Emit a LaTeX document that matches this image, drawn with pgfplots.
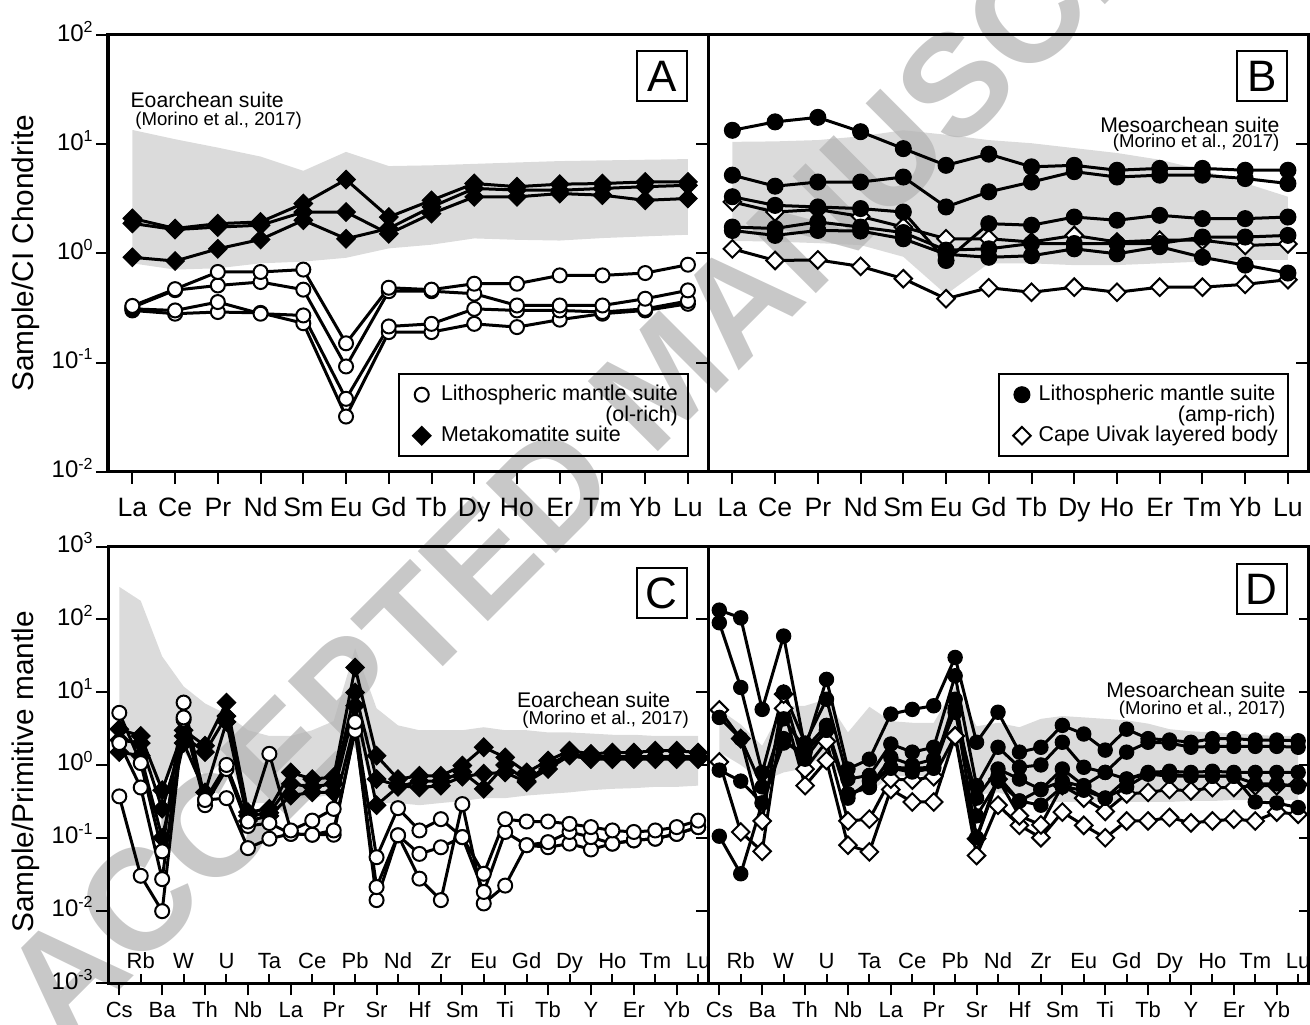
\documentclass[border=0pt]{standalone}
\usepackage{pgfplots}
\pgfplotsset{compat=1.18}
\usepackage{pgfplotstable}
\usepackage{fontspec}
\setmainfont{Liberation Sans}
\definecolor{bandc}{RGB}{179,179,179}
\definecolor{wm}{RGB}{200,200,200}

\pgfplotstableread{
el D1 D2 D3 C1 C2 C3 C4
La 2.09 1.88 0.92 0.33 0.32 0.31 0.30
Ce 1.69 1.65 0.85 0.47 0.46 0.30 0.28
Pr 1.87 1.74 1.10 0.675 0.508 0.358 0.29
Nd 1.94 1.81 1.34 0.675 0.546 0.28 0.285
Sm 2.86 2.39 2.01 0.71 0.465 0.27 0.229
Eu 4.74 2.39 1.36 0.150 0.092 0.0465 0.032
Gd 2.15 1.51 1.69 0.484 0.45 0.214 0.19
Tb 3.06 2.31 2.66 0.465 0.45 0.226 0.19
Dy 4.36 3.29 3.93 0.527 0.427 0.31 0.226
Ho 4.08 3.29 3.80 0.527 0.333 0.30 0.211
Er 4.30 3.53 3.78 0.628 0.333 0.30 0.247
Tm 4.36 3.41 3.93 0.628 0.333 0.29 0.28
Yb 4.51 3.06 4.08 0.66 0.384 0.31 0.30
Lu 4.51 3.18 4.20 0.787 0.458 0.366 0.345
}\tabA

\pgfplotstableread{
el F1 F2 F3 F4 F5 E1 E2
La 13.4 5.2 3.3 1.74 1.62 2.96 1.10
Ce 16.0 4.12 2.75 1.69 1.46 2.39 0.86
Pr 17.6 4.5 2.66 1.94 1.62 2.52 0.87
Nd 13.0 4.5 2.57 1.74 1.60 2.18 0.76
Sm 9.1 5.0 2.39 1.55 1.36 1.74 0.586
Eu 6.4 2.66 0.86 1.07 0.98 1.36 0.384
Gd 8.1 3.66 1.87 1.10 0.92 1.36 0.484
Tb 6.2 4.5 1.81 1.23 0.95 1.27 0.44
Dy 6.4 5.6 2.15 1.23 1.10 1.46 0.49
Ho 5.77 5.0 2.01 1.23 0.99 1.27 0.44
Er 6.0 5.2 2.23 1.23 1.15 1.32 0.49
Tm 6.0 5.2 2.08 1.41 0.92 1.32 0.49
Yb 5.77 4.84 2.08 1.41 0.78 1.18 0.52
Lu 5.77 4.36 2.15 1.46 0.66 1.22 0.574
}\tabB

\pgfplotstableread{
el S1 S2 S3 M1 M2 M3
Cs 5.2 2.0 0.37 3.1 2.2 1.5
Rb 1.06 0.49 0.030 2.5 2.0 1.34
Ba 0.065 0.027 0.0098 0.45 0.25 0.10
W 7.2 4.5 4.2 3.0 2.5 2.0
Th 0.33 0.28 0.33 1.84 1.5 0.42
U 1.0 0.88 0.35 7.2 4.7 3.9
Nb 0.167 0.145 0.072 0.225 0.2 0.17
Ta 1.42 0.159 0.097 0.25 0.22 0.2
La 0.126 0.113 0.113 0.79 0.55 0.38
Ce 0.172 0.11 0.11 0.64 0.5 0.42
Pr 0.249 0.126 0.11 0.68 0.55 0.42
Pb 3.9 2.95 3.3 21.8 9.9 6.5
Sr 0.054 0.021 0.0139 1.34 0.64 0.28
Nd 0.255 0.108 0.108 0.64 0.52 0.5
Hf 0.126 0.06 0.0274 0.71 0.49 0.6
Zr 0.18 0.074 0.0139 0.71 0.52 0.6
Sm 0.102 0.102 0.29 0.98 0.69 0.8
Eu 0.032 0.018 0.0125 1.75 0.76 0.47
Ti 0.18 0.12 0.022 1.27 0.79 1.0
Gd 0.167 0.079 0.079 0.79 0.58 0.6
Tb 0.167 0.087 0.074 1.15 0.88 1.0
Dy 0.155 0.12 0.083 1.57 1.35 1.4
Y 0.14 0.102 0.069 1.42 1.2 1.3
Ho 0.126 0.083 0.083 1.48 1.2 1.3
Er 0.12 0.092 0.092 1.48 1.2 1.3
Tm 0.126 0.097 0.097 1.57 1.2 1.3
Yb 0.14 0.113 0.113 1.57 1.2 1.3
Lu 0.172 0.14 0.14 1.48 1.2 1.3
}\tabC

\pgfplotstableread{
el P1 P2 P3 P4 P5 Q1 Q2
Cs 134 90 4.5 0.85 0.105 5.7 1.1
Rb 105 11.6 2.3 0.6 0.032 2.3 0.12
Ba 5.8 0.79 0.5 0.3 0.3 0.17 0.065
W 59 10 4.3 2.3 2.0 9.4 6.0
Th 1.66 2.0 1.66 1.2 1.5 0.88 0.52
U 15 8 3.5 3.0 3.0 2.1 1.15
Nb 0.88 0.64 0.4 0.4 0.35 0.17 0.079
Ta 1.2 0.72 0.49 0.5 0.6 0.18 0.064
La 5.0 1.94 1.27 0.93 0.9 0.64 0.46
Ce 5.8 1.5 1.0 0.9 0.8 0.62 0.31
Pr 6.5 1.75 1.2 0.93 0.9 0.69 0.31
Pb 30 16.8 5.3 8.0 6.0 2.5 2.5
Sr 2.05 0.52 0.35 0.2 0.1 0.097 0.057
Nd 5.3 1.75 0.88 0.6 0.7 0.64 0.28
Hf 1.5 0.93 0.64 0.32 0.32 0.2 0.148
Zr 1.75 1.0 0.46 0.28 0.46 0.15 0.1
Sm 3.5 2.05 0.88 0.5 0.6 0.52 0.225
Eu 2.66 0.93 0.52 0.45 0.5 0.35 0.148
Ti 1.6 0.79 0.79 0.35 0.35 0.23 0.1
Gd 3.1 1.5 0.64 0.5 0.64 0.4 0.17
Tb 2.3 2.05 0.79 0.75 0.75 0.42 0.17
Dy 2.2 2.0 0.82 0.7 0.75 0.46 0.19
Y 2.05 1.75 0.79 0.7 0.7 0.44 0.16
Ho 2.3 1.8 0.82 0.7 0.7 0.49 0.17
Er 2.3 1.8 0.79 0.7 0.7 0.49 0.18
Tm 2.2 1.8 0.79 0.55 0.31 0.52 0.17
Yb 2.2 1.8 0.79 0.55 0.30 0.52 0.225
Lu 2.15 1.75 0.79 0.5 0.26 0.54 0.21
}\tabD

\pgfplotsset{
  zzoc/.style={black, line width=1.5pt, mark=*, mark size=3.5pt, mark options={solid, fill=white, line width=1pt}},
  zzfd/.style={black, line width=1.5pt, mark=square*, mark size=3.3pt, mark options={solid, fill=black, rotate=45, line width=0.5pt}},
  zzfc/.style={black, line width=1.5pt, mark=*, mark size=4pt, mark options={solid, fill=black, line width=0.5pt}},
  zzfcs/.style={black, line width=1.5pt, mark=*, mark size=3.6pt, mark options={solid, fill=black, line width=0.5pt}},
  zzod/.style={black, line width=1.5pt, mark=square*, mark size=3.1pt, mark options={solid, fill=white, rotate=45, line width=1pt}},
  zzband/.style={fill=bandc, fill opacity=0.47, draw=none, forget plot},
}
\tikzset{zzletter/.style={draw, line width=1pt, minimum width=25pt, minimum height=25pt, inner sep=0pt, font=\fontsize{22}{22}\selectfont},
  zztxt/.style={inner sep=0pt, font=\fontsize{10.6}{11}\selectfont},
  zzref/.style={inner sep=0pt, font=\fontsize{9.3}{10}\selectfont}}

\begin{document}
\begin{tikzpicture}
\useasboundingbox (0,0) rectangle (655pt,512pt);
\node[rotate=45, anchor=west, inner sep=0pt, text=wm, font=\fontsize{72}{72}\selectfont\bfseries] at (14pt,6pt) {ACCEPTED MANUSCRIPT};

% ---------------- Panel A
\begin{axis}[at={(54pt,276.15pt)}, anchor=south west, scale only axis, width=300pt, height=218.35pt,
  ymode=log, ymin=0.01, ymax=100, xmin=-0.57, xmax=13.47, enlargelimits=false,
  axis line style={line width=1.5pt}, tick style={line width=1pt, black}, major tick length=6pt,
  tick align=outside, ytick pos=left, xtick pos=bottom, typeset ticklabels with strut,
  ytick={0.01,0.1,1,10,100}, yminorticks=false,
  yticklabels={10\textsuperscript{-2},10\textsuperscript{-1},10\textsuperscript{0},10\textsuperscript{1},10\textsuperscript{2}},
  yticklabel style={font=\fontsize{12}{13}\selectfont, inner xsep=1pt},
  xtick={0,...,13}, xticklabels={La,Ce,Pr,Nd,Sm,Eu,Gd,Tb,Dy,Ho,Er,Tm,Yb,Lu},
  xticklabel style={font=\fontsize{13.3}{14}\selectfont, yshift=-3pt},
  ylabel={Sample/CI Chondrite}, ylabel style={font=\fontsize{14.9}{16}\selectfont, at={(axis description cs:-0.137,0.5)}, anchor=center},
  legend style={at={(0.968,0.0337)}, anchor=south east, draw=black, line width=1pt, fill=none,
    font=\fontsize{10.7}{11}\selectfont, inner xsep=3pt, inner ysep=3.5pt, row sep=-3pt,
    /tikz/every odd column/.append style={column sep=3pt}},
  legend cell align=left]
\addplot[zzband] coordinates {(0,13.5) (1,11.1) (2,9.3) (3,7.7) (4,5.7) (5,8.5) (6,6.3) (7,6.4) (8,6.6) (9,6.8) (10,7.0) (11,7.1) (12,7.2) (13,7.3)
  (13,1.48) (12,1.43) (11,1.38) (10,1.31) (9,1.33) (8,1.37) (7,1.20) (6,1.11) (5,0.91) (4,0.84) (3,0.81) (2,0.73) (1,0.71) (0,0.81)};
\addplot[zzfd, forget plot] table[x expr=\coordindex, y=D3] {\tabA};
\addplot[zzfd, forget plot] table[x expr=\coordindex, y=D2] {\tabA};
\addplot[zzfd, forget plot] table[x expr=\coordindex, y=D1] {\tabA};
\addplot[zzoc, forget plot] table[x expr=\coordindex, y=C4] {\tabA};
\addplot[zzoc, forget plot] table[x expr=\coordindex, y=C3] {\tabA};
\addplot[zzoc, forget plot] table[x expr=\coordindex, y=C2] {\tabA};
\addplot[zzoc, forget plot] table[x expr=\coordindex, y=C1] {\tabA};
\addlegendimage{zzoc, only marks}
\addlegendentry{Lithospheric mantle suite}
\addlegendimage{empty legend}
\addlegendentry{\hphantom{Lithospheric mantle suite}\llap{(ol-rich)}}
\addlegendimage{zzfd, only marks}
\addlegendentry{Metakomatite suite}
\node[zztxt, anchor=west] at (rel axis cs:0.037,0.851) {Eoarchean suite};
\node[zzref, anchor=west] at (rel axis cs:0.045,0.803) {(Morino et al., 2017)};
\node[zzletter] at (rel axis cs:0.923,0.906) {A};
\end{axis}

% ---------------- Panel B
\begin{axis}[at={(354pt,276.15pt)}, anchor=south west, scale only axis, width=300pt, height=218.35pt,
  ymode=log, ymin=0.01, ymax=100, xmin=-0.57, xmax=13.47, enlargelimits=false,
  axis line style={line width=1.5pt}, tick style={line width=1pt, black}, major tick length=6pt,
  tick align=outside, ytick pos=left, xtick pos=bottom, typeset ticklabels with strut,
  ytick={0.01,0.1,1,10,100}, yminorticks=false, yticklabels={},
  xtick={0,...,13}, xticklabels={La,Ce,Pr,Nd,Sm,Eu,Gd,Tb,Dy,Ho,Er,Tm,Yb,Lu},
  xticklabel style={font=\fontsize{13.3}{14}\selectfont, yshift=-3pt},
  legend style={at={(0.968,0.0337)}, anchor=south east, draw=black, line width=1pt, fill=none,
    font=\fontsize{10.7}{11}\selectfont, inner xsep=3pt, inner ysep=3.5pt, row sep=-3pt,
    /tikz/every odd column/.append style={column sep=2pt}},
  legend cell align=left]
\addplot[zzband] coordinates {(0,10.5) (1,10.6) (2,10.9) (3,11.8) (4,13.4) (5,12.2) (6,10.9) (7,10.2) (8,9.2) (9,8.3) (10,7.2) (11,5.8) (12,4.4) (13,3.3)
  (13,0.87) (12,0.87) (11,0.84) (10,0.81) (9,0.78) (8,0.78) (7,0.81) (6,0.81) (5,0.42) (4,0.93) (3,1.19) (2,1.24) (1,1.28) (0,1.30)};
\addplot[zzod, forget plot] table[x expr=\coordindex, y=E2] {\tabB};
\addplot[zzod, forget plot] table[x expr=\coordindex, y=E1] {\tabB};
\addplot[zzfc, forget plot] table[x expr=\coordindex, y=F5] {\tabB};
\addplot[zzfc, forget plot] table[x expr=\coordindex, y=F4] {\tabB};
\addplot[zzfc, forget plot] table[x expr=\coordindex, y=F3] {\tabB};
\addplot[zzfc, forget plot] table[x expr=\coordindex, y=F2] {\tabB};
\addplot[zzfc, forget plot] table[x expr=\coordindex, y=F1] {\tabB};
\addlegendimage{zzfc, only marks}
\addlegendentry{Lithospheric mantle suite}
\addlegendimage{empty legend}
\addlegendentry{\hphantom{Lithospheric mantle suite}\llap{(amp-rich)}}
\addlegendimage{zzod, only marks}
\addlegendentry{Cape Uivak layered body}
\node[zztxt, anchor=east] at (rel axis cs:0.953,0.795) {Mesoarchean suite};
\node[zzref, anchor=east] at (rel axis cs:0.953,0.753) {(Morino et al., 2017)};
\node[zzletter] at (rel axis cs:0.923,0.906) {B};
\end{axis}
\begin{axis}[at={(354pt,276.15pt)}, anchor=south west, scale only axis, width=300pt, height=218.35pt,
  ymode=log, ymin=0.01, ymax=100, xmin=0, xmax=1, enlargelimits=false,
  axis line style={line width=1.5pt}, tick style={line width=1pt, black}, major tick length=6pt,
  tick align=inside, axis x line=none, axis y line*=right,
  ytick={0.01,0.1,1,10,100}, yminorticks=false, yticklabels={}]
\end{axis}

% ---------------- Panel C
\begin{axis}[at={(54pt,20.35pt)}, anchor=south west, scale only axis, width=300pt, height=218.35pt,
  ymode=log, ymin=0.001, ymax=1000, xmin=-0.527, xmax=27.46, enlargelimits=false,
  axis line style={line width=1.5pt}, tick style={line width=1pt, black}, major tick length=6pt,
  tick align=outside, ytick pos=left, xtick pos=bottom, typeset ticklabels with strut,
  ytick={0.001,0.01,0.1,1,10,100,1000}, yminorticks=false,
  yticklabels={10\textsuperscript{-3},10\textsuperscript{-2},10\textsuperscript{-1},10\textsuperscript{0},10\textsuperscript{1},10\textsuperscript{2},10\textsuperscript{3}},
  yticklabel style={font=\fontsize{12}{13}\selectfont, inner xsep=1pt},
  xtick={0,2,...,26}, xticklabels={Cs,Ba,Th,Nb,La,Pr,Sr,Hf,Sm,Ti,Tb,Y,Er,Yb},
  xticklabel style={font=\fontsize{11}{12}\selectfont, yshift=1pt},
  ylabel={Sample/Primitive mantle}, ylabel style={font=\fontsize{14.9}{16}\selectfont, at={(axis description cs:-0.137,0.484)}, anchor=center}]
\addplot[zzband] coordinates {(0,280) (1,180) (2,31) (3,12) (4,7) (5,5) (6,3) (7,2.5) (8,2.5) (9,3) (10,4) (11,40) (12,6) (13,3.5) (14,3) (15,3) (16,3) (17,3.3) (18,3) (19,3) (20,2.8) (21,2.8) (22,2.7) (23,2.6) (24,2.6) (25,2.5) (26,2.5) (27,2.5)
  (27,0.52) (26,0.5) (25,0.5) (24,0.48) (23,0.47) (22,0.45) (21,0.42) (20,0.4) (19,0.38) (18,0.35) (17,0.35) (16,0.32) (15,0.3) (14,0.28) (13,0.3) (12,0.3) (11,3) (10,0.4) (9,0.35) (8,0.35) (7,0.3) (6,0.3) (5,1.2) (4,0.7) (3,1.5) (2,0.5) (1,1.0) (0,1.5)};
\addplot[zzfd] table[x expr=\coordindex, y=M3] {\tabC};
\addplot[zzfd] table[x expr=\coordindex, y=M2] {\tabC};
\addplot[zzfd] table[x expr=\coordindex, y=M1] {\tabC};
\addplot[zzoc] table[x expr=\coordindex, y=S3] {\tabC};
\addplot[zzoc] table[x expr=\coordindex, y=S2] {\tabC};
\addplot[zzoc] table[x expr=\coordindex, y=S1] {\tabC};
\node[zztxt, anchor=west] at (rel axis cs:0.681,0.649) {Eoarchean suite};
\node[zzref, anchor=west] at (rel axis cs:0.69,0.603) {(Morino et al., 2017)};
\node[zzletter] at (rel axis cs:0.923,0.893) {C};
\end{axis}
\begin{axis}[at={(54pt,20.35pt)}, anchor=south west, scale only axis, width=300pt, height=218.35pt,
  ymin=0, ymax=1, xmin=-0.527, xmax=27.46, enlargelimits=false,
  axis line style={line width=1.5pt}, tick style={line width=1pt, black}, major tick length=4.5pt,
  tick align=inside, axis y line=none, axis x line*=bottom, typeset ticklabels with strut,
  xtick={1,3,...,27}, xticklabels={Rb,W,U,Ta,Ce,Pb,Nd,Zr,Eu,Gd,Dy,Ho,Tm,Lu},
  xticklabel style={font=\fontsize{11}{12}\selectfont, yshift=19.4pt}]
\end{axis}

% ---------------- Panel D
\begin{axis}[at={(354pt,20.35pt)}, anchor=south west, scale only axis, width=300pt, height=218.35pt,
  ymode=log, ymin=0.001, ymax=1000, xmin=-0.527, xmax=27.46, enlargelimits=false,
  axis line style={line width=1.5pt}, tick style={line width=1pt, black}, major tick length=6pt,
  tick align=outside, ytick pos=left, xtick pos=bottom, typeset ticklabels with strut,
  ytick={0.001,0.01,0.1,1,10,100,1000}, yminorticks=false, yticklabels={},
  xtick={0,2,...,26}, xticklabels={Cs,Ba,Th,Nb,La,Pr,Sr,Hf,Sm,Ti,Tb,Y,Er,Yb},
  xticklabel style={font=\fontsize{11}{12}\selectfont, yshift=1pt}]
\addplot[zzband] coordinates {(0,5.8) (1,3.6) (2,1.84) (3,6.5) (4,6.5) (5,8) (6,2.8) (7,6.3) (8,4) (9,3.8) (10,3.8) (11,12) (12,3.4) (13,3.8) (14,3.3) (15,4.3) (16,4.7) (17,4.5) (18,4.3) (19,4.1) (20,3.7) (21,3.1) (22,2.9) (23,2.8) (24,2.7) (25,2.6) (26,2.5) (27,2.5)
  (27,0.33) (26,0.33) (25,0.33) (24,0.33) (23,0.32) (22,0.32) (21,0.31) (20,0.31) (19,0.31) (18,0.31) (17,0.31) (16,0.31) (15,0.31) (14,0.35) (13,0.42) (12,0.39) (11,1.84) (10,0.7) (9,0.7) (8,0.7) (7,0.42) (6,0.42) (5,1.5) (4,0.9) (3,0.79) (2,0.6) (1,1.0) (0,1.5)};
\addplot[zzod] table[x expr=\coordindex, y=Q2] {\tabD};
\addplot[zzod] table[x expr=\coordindex, y=Q1] {\tabD};
\addplot[zzfcs] table[x expr=\coordindex, y=P5] {\tabD};
\addplot[zzfcs] table[x expr=\coordindex, y=P4] {\tabD};
\addplot[zzfcs] table[x expr=\coordindex, y=P3] {\tabD};
\addplot[zzfcs] table[x expr=\coordindex, y=P2] {\tabD};
\addplot[zzfcs] table[x expr=\coordindex, y=P1] {\tabD};
\node[zztxt, anchor=east] at (rel axis cs:0.963,0.672) {Mesoarchean suite};
\node[zzref, anchor=east] at (rel axis cs:0.963,0.626) {(Morino et al., 2017)};
\node[zzletter] at (rel axis cs:0.923,0.903) {D};
\end{axis}
\begin{axis}[at={(354pt,20.35pt)}, anchor=south west, scale only axis, width=300pt, height=218.35pt,
  ymode=log, ymin=0.001, ymax=1000, xmin=-0.527, xmax=27.46, enlargelimits=false,
  axis line style={line width=1.5pt}, tick style={line width=1pt, black}, major tick length=4.5pt,
  tick align=inside, axis x line*=bottom, axis y line*=right, typeset ticklabels with strut,
  ytick={0.001,0.01,0.1,1,10,100,1000}, yminorticks=false, yticklabels={},
  xtick={1,3,...,27}, xticklabels={Rb,W,U,Ta,Ce,Pb,Nd,Zr,Eu,Gd,Dy,Ho,Tm,Lu},
  xticklabel style={font=\fontsize{11}{12}\selectfont, yshift=19.4pt}]
\end{axis}
\end{tikzpicture}
\end{document}
